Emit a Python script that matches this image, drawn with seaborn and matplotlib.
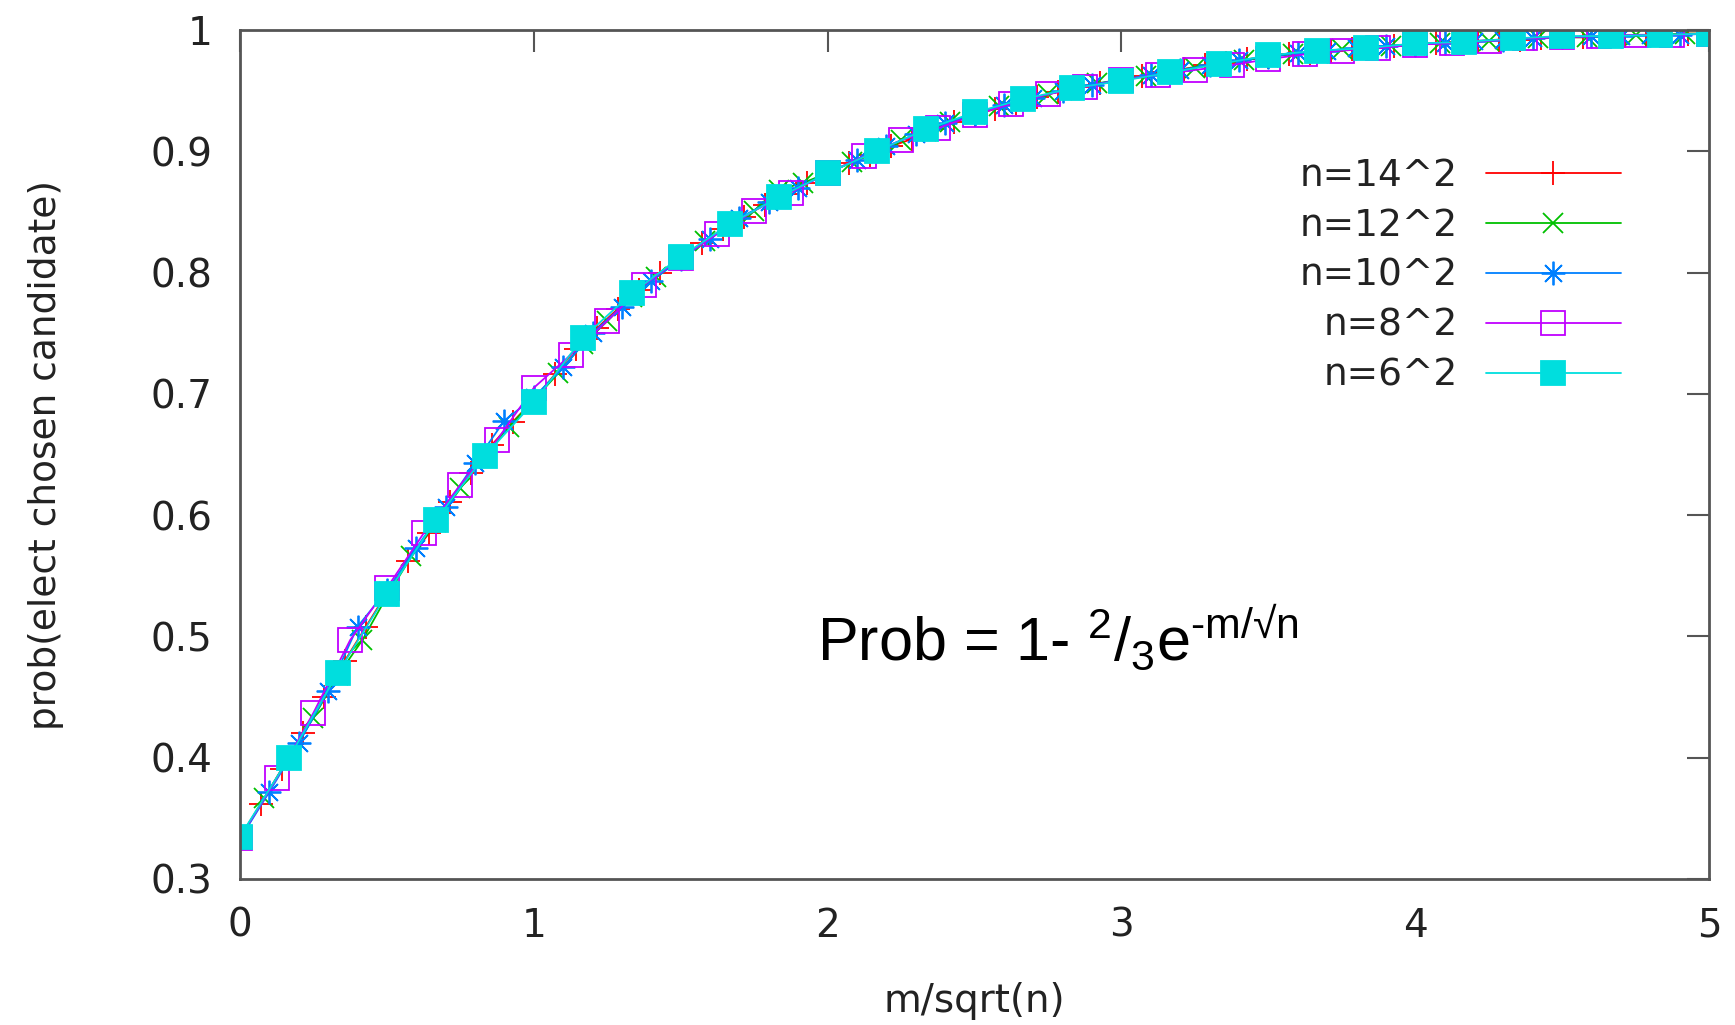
import numpy as np
import pandas as pd
import matplotlib
matplotlib.use("Agg")
import matplotlib.pyplot as plt
import seaborn as sns

# ---------------- data ----------------
series_names = ["n=14^2", "n=12^2", "n=10^2", "n=8^2", "n=6^2"]
sqrt_n = [14, 12, 10, 8, 6]

y_14 = [0.334, 0.362, 0.391, 0.420, 0.450, 0.480, 0.508, 0.536, 0.562, 0.585,
        0.611, 0.635, 0.658, 0.677, 0.695, 0.716, 0.737, 0.754, 0.770, 0.786,
        0.800, 0.812, 0.824, 0.836, 0.846, 0.856, 0.865, 0.874, 0.882, 0.890,
        0.897, 0.904, 0.910, 0.918, 0.924, 0.930, 0.935, 0.940, 0.945, 0.949,
        0.953, 0.956, 0.959, 0.962, 0.965, 0.968, 0.971, 0.973, 0.976, 0.978,
        0.980, 0.981, 0.983, 0.984, 0.985, 0.987, 0.988, 0.989, 0.990, 0.991,
        0.992, 0.992, 0.993, 0.994, 0.994, 0.995, 0.995, 0.996, 0.996, 0.997,
        0.997]
y_12 = [0.334, 0.367, 0.400, 0.433, 0.468, 0.497, 0.533, 0.566, 0.594, 0.622,
        0.650, 0.673, 0.695, 0.717, 0.741, 0.760, 0.780, 0.796, 0.812, 0.826,
        0.839, 0.851, 0.868, 0.874, 0.882, 0.891, 0.899, 0.909, 0.917, 0.924,
        0.931, 0.937, 0.942, 0.947, 0.952, 0.956, 0.959, 0.962, 0.966, 0.969,
        0.972, 0.975, 0.978, 0.980, 0.982, 0.984, 0.985, 0.987, 0.988, 0.989,
        0.990, 0.991, 0.992, 0.993, 0.994, 0.994, 0.995, 0.996, 0.996, 0.997,
        0.997]
y_10 = [0.333, 0.372, 0.412, 0.455, 0.508, 0.538, 0.573, 0.607, 0.643, 0.678,
        0.697, 0.722, 0.750, 0.772, 0.793, 0.811, 0.828, 0.845, 0.858, 0.870,
        0.882, 0.893, 0.904, 0.914, 0.923, 0.931, 0.938, 0.944, 0.950, 0.955,
        0.959, 0.963, 0.967, 0.971, 0.975, 0.978, 0.981, 0.983, 0.985, 0.987,
        0.988, 0.989, 0.991, 0.992, 0.993, 0.994, 0.995, 0.995, 0.996, 0.996,
        0.997]
y_8 = [0.334, 0.383, 0.437, 0.497, 0.540, 0.585, 0.625, 0.662, 0.705, 0.732,
       0.760, 0.790, 0.812, 0.832, 0.851, 0.866, 0.882, 0.896, 0.909, 0.919,
       0.930, 0.939, 0.947, 0.953, 0.959, 0.963, 0.967, 0.971, 0.976, 0.980,
       0.983, 0.985, 0.988, 0.989, 0.991, 0.993, 0.994, 0.995, 0.996, 0.996,
       0.997]
y_6 = [0.335, 0.400, 0.470, 0.535, 0.596, 0.649, 0.693, 0.746, 0.783, 0.813,
       0.840, 0.862, 0.882, 0.900, 0.918, 0.932, 0.943, 0.952, 0.958, 0.965,
       0.972, 0.979, 0.983, 0.985, 0.989, 0.990, 0.993, 0.995, 0.995, 0.996,
       0.997]
series_values = [y_14, y_12, y_10, y_8, y_6]

x_ticks = [0, 1, 2, 3, 4, 5]
x_tick_labels = ["0", "1", "2", "3", "4", "5"]
y_ticks = [0.3, 0.4, 0.5, 0.6, 0.7, 0.8, 0.9, 1.0]
y_tick_labels = ["0.3", "0.4", "0.5", "0.6", "0.7", "0.8", "0.9", "1"]

# ---------------- style ----------------
colors = ["#ff0000", "#00c000", "#0080ff", "#c000ff", "#00dede"]
markers = ["+", "x", (8, 2, 0), "s", "s"]
marker_sizes = [17, 15, 17, 17, 17]
filled = [True, True, True, False, True]

frames = []
for name, k, ys in zip(series_names, sqrt_n, series_values):
    m = np.arange(len(ys))
    frames.append(pd.DataFrame({"x": m / k, "y": ys, "series": name}))
df = pd.concat(frames, ignore_index=True)

sns.set_style("white")
plt.rcParams["font.family"] = ["DejaVu Sans"]
plt.rcParams["mathtext.fontset"] = "custom"
plt.rcParams["mathtext.rm"] = "Liberation Sans"
plt.rcParams["mathtext.it"] = "Liberation Sans"
plt.rcParams["mathtext.default"] = "regular"

text_color = "#222222"
frame_color = "#555555"

fig = plt.figure(figsize=(17.35, 10.25), dpi=100)
ax = fig.add_axes([240 / 1735, 1 - 879 / 1025, 1469 / 1735, 849 / 1025])

for name, col, mk, ms, fl in zip(series_names, colors, markers, marker_sizes, filled):
    sub = df[df["series"] == name]
    kw = dict(marker=mk, markersize=ms, markeredgecolor=col, markeredgewidth=1.3)
    if fl:
        kw["markerfacecolor"] = col
    else:
        kw["markerfacecolor"] = "none"
    sns.lineplot(data=sub, x="x", y="y", ax=ax, color=col, linewidth=1.3,
                 label=name, sort=False, **kw)

ax.set_xlim(0, 5)
ax.set_ylim(0.3, 1.0)
ax.set_xticks(x_ticks)
ax.set_xticklabels(x_tick_labels)
ax.set_yticks(y_ticks)
ax.set_yticklabels(y_tick_labels)

for sp in ax.spines.values():
    sp.set_visible(True)
    sp.set_color(frame_color)
    sp.set_linewidth(2.0)
ax.tick_params(direction="in", length=16, width=1.5, color=frame_color,
               top=True, right=True, labelsize=28, labelcolor=text_color, pad=20)

ax.set_xlabel("m/sqrt(n)", fontsize=28, color=text_color, va="center")
ax.set_ylabel("prob(elect chosen candidate)", fontsize=27, color=text_color, va="center")
ax.xaxis.set_label_coords(0.5, -0.144)
ax.yaxis.set_label_coords(-0.132, 0.5)

ax.text(0.393, 0.258, "Prob = 1- $^{2}/_{3}$e$^{\\text{-m/\u221an}}$", transform=ax.transAxes,
        fontsize=44, color="black", ha="left", va="baseline",
        family=["Liberation Sans", "DejaVu Sans"])

leg = ax.legend(loc="upper right", bbox_to_anchor=(0.940, 0.849), frameon=False,
                markerfirst=False, handlelength=3.6, handletextpad=0.75,
                labelspacing=0.37, fontsize=27, borderpad=0, borderaxespad=0,
                numpoints=1)
for t in leg.get_texts():
    t.set_color(text_color)

fig.savefig("out.png", dpi=100, facecolor="white")
